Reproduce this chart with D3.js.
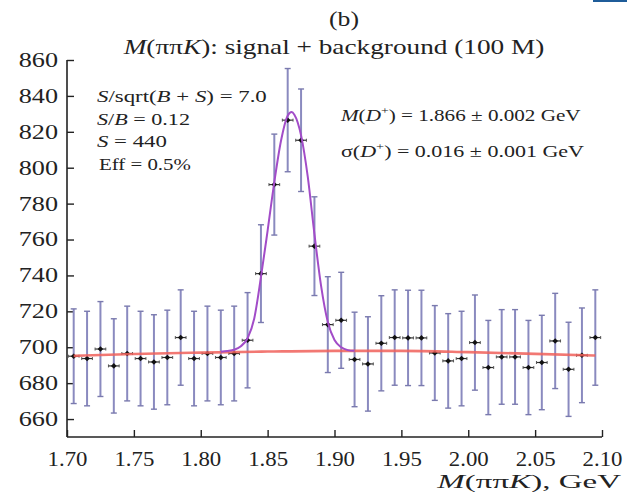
<!DOCTYPE html>
<meta charset="utf-8">
<script src="https://d3js.org/d3.v7.min.js"></script>
<style>
	body{
		margin:0;
		background:#fff;
	}
	svg text{
		fill:#222;
		font-family:'Liberation Serif', 'Times New Roman', serif;
	}
</style>
<div id="chart"></div>
<script>
	// bin centres (GeV) and counts per bin
	var binMass = [1.705,1.715,1.725,1.735,1.745,1.755,1.765,1.775,1.785,1.795,
		1.805,1.815,1.825,1.835,1.845,1.855,1.865,1.875,1.885,1.895,
		1.905,1.915,1.925,1.935,1.945,1.955,1.965,1.975,1.985,1.995,
		2.005,2.015,2.025,2.035,2.045,2.055,2.065,2.075,2.085,2.095]
	var binCounts = [695,693.7,699,689.6,696.5,693.7,691.8,694.3,705.4,693.7,
		696.5,694.3,696.5,703.9,741,790.6,826.5,815.3,756.3,712.6,
		715,693.2,690.7,702.2,705.4,705.2,705.2,696.8,692.4,693.7,
		702.6,688.7,694.6,694.6,688.7,691.5,703.5,687.7,695.5,705.4]
	var binHalfWidth = 0.004

	// background fit (red)
	var bgMass = [1.705,1.75,1.80,1.85,1.90,1.95,2.00,2.05,2.095]
	var bgValue = [695.2,696.2,697.0,697.6,698.0,698.0,697.3,696.3,695.4]

	// signal + background fit (purple)
	var fitMass = [1.815,1.82,1.825,1.83,1.835,1.84,1.845,1.85,1.855,1.86,1.865,1.868,
		1.87,1.875,1.88,1.885,1.89,1.895,1.90,1.905,1.91,1.915]
	var fitValue = [697.5,697.9,698.6,700.6,705,716,739,765,792,815,829,831,
		829.5,818,795,763,734,714,704,700,698.4,698]

	var xTicks = [1.70,1.75,1.80,1.85,1.90,1.95,2.00,2.05,2.10]
	var yTicks = [660,680,700,720,740,760,780,800,820,840,860]

	var w = 627
	var h = 493
	var svg = d3.select("#chart").append("svg").attr("width",w).attr("height",h)

	var x = d3.scaleLinear().domain([1.70,2.10]).range([67,602])
	var y = d3.scaleLinear().domain([650,860]).range([437,60])

	// the reference type is wide: stretch text sideways around its anchor
	function stretch(sel,s){
		sel.each(function(){
			var ax = +d3.select(this).attr("x") || 0
			d3.select(this).attr("transform","translate("+ax+",0) scale("+s+",1) translate("+(-ax)+",0)")
		})
	}
	function fitWidth(sel,target){
		sel.each(function(){
			stretch(d3.select(this), target/this.getBBox().width)
		})
	}

	// little blue rule in the top corner
	svg.append("line").attr("x1",593).attr("x2",627).attr("y1",1).attr("y2",1)
		.attr("stroke","#1f5c99").attr("stroke-width",2)

	// axes, ticks pointing inward
	var xAxis = svg.append("g").attr("transform","translate(0,"+y(650)+")")
		.call(d3.axisBottom(x).tickValues(xTicks).tickSize(-7).tickPadding(15).tickFormat(d3.format(".2f")))
	var yAxis = svg.append("g").attr("transform","translate("+x(1.70)+",0)")
		.call(d3.axisLeft(y).tickValues(yTicks).tickSize(-7).tickPadding(9).tickFormat(d3.format("d")))
	svg.selectAll(".domain").attr("stroke","#222").attr("stroke-width",1.6)
	svg.selectAll(".tick line").attr("stroke","#222").attr("stroke-width",1.4)
	svg.selectAll(".tick text").attr("font-family","Liberation Serif").style("font-size","20px").attr("fill","#222")
	stretch(xAxis.selectAll(".tick text"),1.14)
	stretch(yAxis.selectAll(".tick text"),1.31)
	xAxis.select(".domain").attr("d","M"+x(1.70)+",0H"+x(2.10))
	yAxis.select(".domain").attr("d","M0,"+y(650)+"V"+y(860))

	// error bars
	var pts = svg.append("g")
	binMass.forEach(function(m,i){
		var n = binCounts[i]
		var err = Math.sqrt(n)
		var cx = x(m)
		pts.append("line").attr("x1",cx).attr("x2",cx).attr("y1",y(n-err)).attr("y2",y(n+err))
			.attr("stroke","#8a8abf").attr("stroke-width",2)
		;[n-err,n+err].forEach(function(v){
			pts.append("line").attr("x1",cx-3).attr("x2",cx+3).attr("y1",y(v)).attr("y2",y(v))
				.attr("stroke","#7a7aae").attr("stroke-width",1.4)
		})
	})

	// background curve
	var line = d3.line().x(function(d){return x(d[0])}).y(function(d){return y(d[1])}).curve(d3.curveMonotoneX)
	svg.append("path").datum(d3.zip(bgMass,bgValue)).attr("d",line)
		.attr("fill","none").attr("stroke","#f0605a").attr("stroke-width",2.6).attr("stroke-opacity",0.85)

	// signal + background curve
	svg.append("path").datum(d3.zip(fitMass,fitValue)).attr("d",line)
		.attr("fill","none").attr("stroke","#a24cc8").attr("stroke-width",2)

	// points with bin-width bars
	binMass.forEach(function(m,i){
		var n = binCounts[i]
		var cx = x(m)
		var cy = y(n)
		pts.append("line").attr("x1",x(m-binHalfWidth)).attr("x2",x(m+binHalfWidth)).attr("y1",cy).attr("y2",cy)
			.attr("stroke","#333").attr("stroke-width",1.2)
		;[m-binHalfWidth,m+binHalfWidth].forEach(function(v){
			pts.append("line").attr("x1",x(v)).attr("x2",x(v)).attr("y1",cy-1.5).attr("y2",cy+1.5)
				.attr("stroke","#555").attr("stroke-width",1)
		})
		pts.append("path").attr("d","M"+cx+","+(cy-2.8)+"L"+(cx+2.8)+","+cy+"L"+cx+","+(cy+2.8)+"L"+(cx-2.8)+","+cy+"Z")
			.attr("fill","#111")
	})

	// titles
	var tb = svg.append("text").text("(b)").attr("x",344).attr("y",26).attr("text-anchor","middle").style("font-size","20px")
	fitWidth(tb,30)
	var title = svg.append("text").attr("x",334).attr("y",54).attr("text-anchor","middle").style("font-size","22px")
	title.append("tspan").text("M").style("font-style","italic")
	title.append("tspan").text("(ππ")
	title.append("tspan").text("K").style("font-style","italic")
	title.append("tspan").text("): signal + background (100 M)")
	fitWidth(title,422)

	// left annotation
	var ann = svg.append("g").style("font-size","17px")
	var t1 = ann.append("text").attr("x",97).attr("y",102)
	t1.append("tspan").text("S").style("font-style","italic")
	t1.append("tspan").text("/sqrt(")
	t1.append("tspan").text("B").style("font-style","italic")
	t1.append("tspan").text(" + ")
	t1.append("tspan").text("S").style("font-style","italic")
	t1.append("tspan").text(") = 7.0")
	fitWidth(t1,170)
	var t2 = ann.append("text").attr("x",97).attr("y",125)
	t2.append("tspan").text("S").style("font-style","italic")
	t2.append("tspan").text("/")
	t2.append("tspan").text("B").style("font-style","italic")
	t2.append("tspan").text(" = 0.12")
	fitWidth(t2,93)
	var t3 = ann.append("text").attr("x",97).attr("y",147)
	t3.append("tspan").text("S").style("font-style","italic")
	t3.append("tspan").text(" = 440")
	fitWidth(t3,70)
	var t4 = ann.append("text").attr("x",99).attr("y",170).text("Eff = 0.5%")
	fitWidth(t4,92)

	// right annotation
	var r1 = ann.append("text").attr("x",341).attr("y",121)
	r1.append("tspan").text("M").style("font-style","italic")
	r1.append("tspan").text("(")
	r1.append("tspan").text("D").style("font-style","italic")
	r1.append("tspan").text("+").attr("dy",-7).style("font-size","11px")
	r1.append("tspan").text(") = 1.866 ± 0.002 GeV").attr("dy",7)
	fitWidth(r1,242)
	var r2 = ann.append("text").attr("x",341).attr("y",157)
	r2.append("tspan").text("σ(")
	r2.append("tspan").text("D").style("font-style","italic")
	r2.append("tspan").text("+").attr("dy",-7).style("font-size","11px")
	r2.append("tspan").text(") = 0.016 ± 0.001 GeV").attr("dy",7)
	fitWidth(r2,244)

	// x label
	var xl = svg.append("text").attr("x",621).attr("y",488).attr("text-anchor","end").style("font-size","19px")
	xl.append("tspan").text("M").style("font-style","italic")
	xl.append("tspan").text("(ππ")
	xl.append("tspan").text("K").style("font-style","italic")
	xl.append("tspan").text("), GeV")
	fitWidth(xl,186)
</script>
